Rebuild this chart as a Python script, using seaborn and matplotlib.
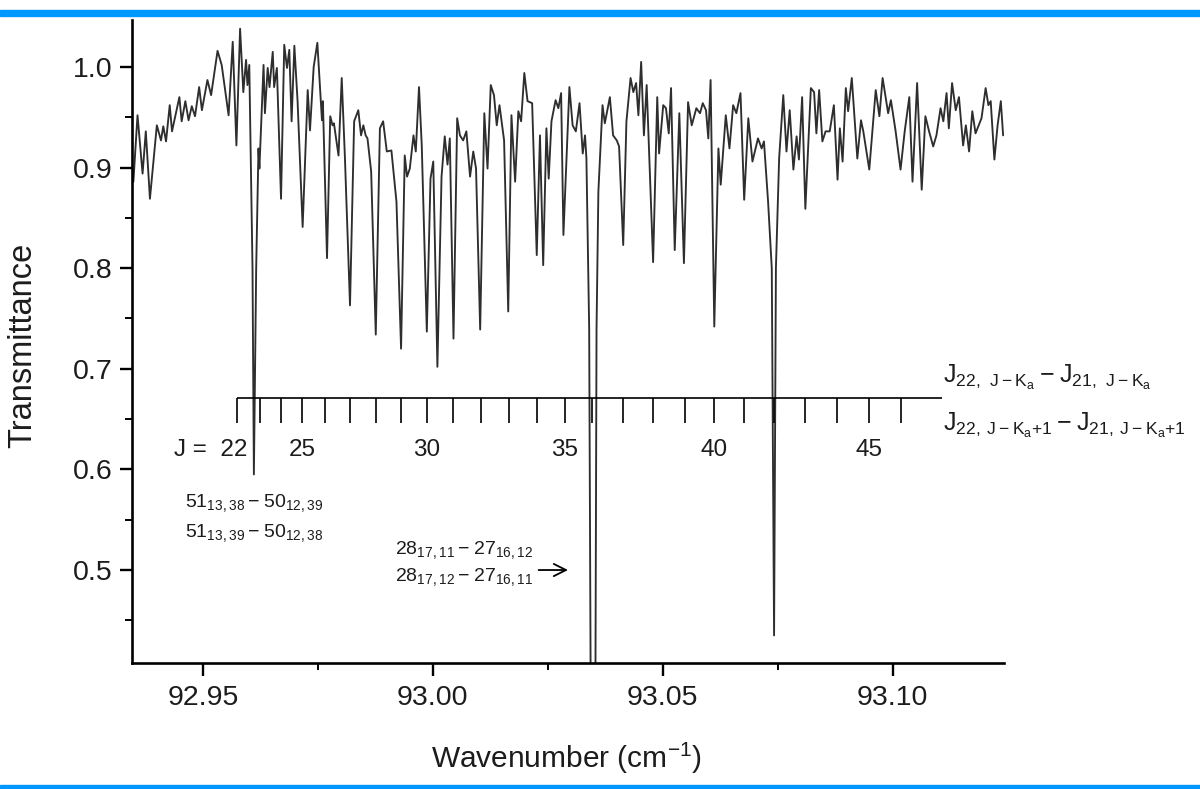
import matplotlib
matplotlib.use("Agg")
import numpy as np
import pandas as pd
import seaborn as sns
import matplotlib.pyplot as plt
from matplotlib.ticker import MultipleLocator, FormatStrFormatter
from matplotlib.patches import Rectangle

# ---------------------------------------------------------------- data
# Measured transmittance spectrum (wavenumber in cm^-1)
wn_a = [92.9349, 92.9358, 92.9369, 92.9376, 92.9385, 92.9400, 92.9409, 92.9414, 92.9420,
        92.9428, 92.9433, 92.9449, 92.9454, 92.9462, 92.9469, 92.9476, 92.9483, 92.9492,
        92.9498, 92.9510, 92.9518, 92.9532, 92.9541, 92.9556, 92.9565, 92.9573, 92.9581,
        92.9588, 92.9594, 92.9597, 92.9601, 92.9608, 92.9611, 92.9616, 92.9621, 92.9623,
        92.9632, 92.9635, 92.9641, 92.9645, 92.9652, 92.9655, 92.9661, 92.9670, 92.9677,
        92.9683, 92.9688, 92.9693, 92.9699, 92.9706, 92.9717, 92.9728, 92.9733, 92.9741,
        92.9749, 92.9759, 92.9761, 92.9770, 92.9777, 92.9782, 92.9785, 92.9795, 92.9802,
        92.9809]
tr_a = [0.886, 0.952, 0.894, 0.936, 0.869, 0.942, 0.927, 0.941, 0.926,
        0.962, 0.936, 0.970, 0.946, 0.966, 0.947, 0.961, 0.951, 0.980,
        0.957, 0.987, 0.972, 1.016, 1.002, 0.952, 1.025, 0.922, 1.038,
        0.975, 1.007, 0.982, 1.002, 0.800, 0.595, 0.800, 0.919, 0.899,
        1.002, 0.954, 0.999, 0.980, 1.015, 0.980, 0.999, 0.869, 1.022,
        0.999, 1.017, 0.946, 1.021, 0.966, 0.841, 0.977, 0.937, 1.000,
        1.024, 0.947, 0.966, 0.810, 0.951, 0.942, 0.944, 0.912, 0.989,
        0.909]

wn_b = [92.9820, 92.9829, 92.9838, 92.9844, 92.9849, 92.9854, 92.9858, 92.9866, 92.9876,
        92.9885, 92.9892, 92.9900, 92.9910, 92.9921, 92.9931, 92.9939, 92.9944, 92.9950,
        92.9958, 92.9963, 92.9970, 92.9976, 92.9987, 92.9995, 93.0001, 93.0010, 93.0019,
        93.0026, 93.0032, 93.0037, 93.0045, 93.0053, 93.0059, 93.0066, 93.0073, 93.0081,
        93.0088, 93.0094, 93.0103, 93.0112, 93.0119, 93.0126, 93.0133, 93.0139, 93.0145,
        93.0155, 93.0164, 93.0171, 93.0179, 93.0186, 93.0192, 93.0199, 93.0206, 93.0216,
        93.0226, 93.0233, 93.0240, 93.0247, 93.0252, 93.0258, 93.0267, 93.0273, 93.0279,
        93.0284]
tr_b = [0.763, 0.946, 0.957, 0.932, 0.942, 0.932, 0.929, 0.896, 0.734,
        0.939, 0.946, 0.916, 0.917, 0.866, 0.720, 0.912, 0.891, 0.899,
        0.932, 0.916, 0.980, 0.922, 0.737, 0.889, 0.906, 0.702, 0.891,
        0.931, 0.903, 0.929, 0.730, 0.949, 0.932, 0.927, 0.936, 0.891,
        0.916, 0.899, 0.739, 0.954, 0.899, 0.982, 0.972, 0.942, 0.962,
        0.927, 0.757, 0.952, 0.886, 0.956, 0.946, 0.994, 0.966, 0.964,
        0.813, 0.932, 0.803, 0.939, 0.889, 0.946, 0.967, 0.959, 0.974,
        0.833]

wn_c = [93.0297, 93.0304, 93.0311, 93.0319, 93.0326, 93.0331, 93.0334, 93.0340, 93.0344,
        93.0353, 93.0356, 93.0360, 93.0369, 93.0374, 93.0385, 93.0392, 93.0400, 93.0405,
        93.0414, 93.0421, 93.0430, 93.0436, 93.0442, 93.0447, 93.0453, 93.0459, 93.0465,
        93.0479, 93.0488, 93.0492, 93.0501, 93.0507, 93.0513, 93.0518, 93.0526, 93.0536,
        93.0546, 93.0555, 93.0563, 93.0573, 93.0581, 93.0587, 93.0594, 93.0599, 93.0604,
        93.0612, 93.0621, 93.0626, 93.0637, 93.0645, 93.0653, 93.0660, 93.0669, 93.0677,
        93.0686, 93.0695, 93.0707, 93.0715, 93.0720, 93.0729, 93.0737, 93.0742, 93.0746,
        93.0753]
tr_c = [0.980, 0.942, 0.936, 0.964, 0.914, 0.932, 0.909, 0.740, 0.300,
        0.300, 0.740, 0.876, 0.962, 0.944, 0.970, 0.932, 0.927, 0.921,
        0.823, 0.946, 0.989, 0.975, 0.984, 0.952, 1.005, 0.932, 0.982,
        0.806, 0.970, 0.914, 0.962, 0.959, 0.934, 0.979, 0.818, 0.954,
        0.805, 0.965, 0.942, 0.959, 0.954, 0.964, 0.957, 0.929, 0.987,
        0.742, 0.919, 0.883, 0.952, 0.919, 0.962, 0.954, 0.974, 0.868,
        0.949, 0.906, 0.929, 0.919, 0.926, 0.866, 0.800, 0.435, 0.800,
        0.909]

wn_d = [93.0762, 93.0769, 93.0776, 93.0784, 93.0791, 93.0796, 93.0803, 93.0810, 93.0822,
        93.0829, 93.0834, 93.0840, 93.0847, 93.0854, 93.0863, 93.0872, 93.0880, 93.0885,
        93.0891, 93.0898, 93.0903, 93.0911, 93.0923, 93.0931, 93.0936, 93.0949, 93.0963,
        93.0971, 93.0978, 93.0990, 93.0996, 93.1006, 93.1017, 93.1026, 93.1036, 93.1043,
        93.1053, 93.1063, 93.1071, 93.1079, 93.1088, 93.1095, 93.1104, 93.1110, 93.1117,
        93.1122, 93.1129, 93.1137, 93.1144, 93.1153, 93.1159, 93.1166, 93.1173, 93.1180,
        93.1193, 93.1202, 93.1208, 93.1213, 93.1221, 93.1228, 93.1235, 93.1240]
tr_d = [0.972, 0.916, 0.957, 0.898, 0.931, 0.908, 0.970, 0.859, 0.979,
        0.975, 0.934, 0.977, 0.926, 0.936, 0.936, 0.962, 0.888, 0.939,
        0.906, 0.979, 0.956, 0.989, 0.909, 0.947, 0.936, 0.898, 0.977,
        0.951, 0.989, 0.954, 0.967, 0.937, 0.898, 0.936, 0.970, 0.886,
        0.984, 0.878, 0.951, 0.936, 0.921, 0.932, 0.959, 0.946, 0.974,
        0.939, 0.984, 0.957, 0.970, 0.922, 0.942, 0.916, 0.956, 0.934,
        0.949, 0.979, 0.962, 0.966, 0.908, 0.942, 0.966, 0.932]

# Calculated J-progression (J = 22 ... 46) for the K_a series
comb_j = list(range(22, 47))
comb_wn = [92.9575, 92.9624, 92.9670, 92.9716, 92.9766, 92.9820, 92.9876, 92.9930,
           92.9987, 93.0044, 93.0105, 93.0166, 93.0226, 93.0287, 93.0346, 93.0413,
           93.0479, 93.0548, 93.0611, 93.0676, 93.0742, 93.0809, 93.0879, 93.0948,
           93.1018]
comb_end = 93.1107
comb_level = 0.671
comb_tick_bottom = 0.646
comb_labels = [25, 30, 35, 40, 45]

x_ticks = [92.95, 93.00, 93.05, 93.10]
y_ticks = [0.5, 0.6, 0.7, 0.8, 0.9, 1.0]

# ---------------------------------------------------------------- style
sns.set_style("ticks")
plt.rcParams["font.family"] = ["Liberation Sans", "DejaVu Sans"]
plt.rcParams["mathtext.default"] = "regular"

ink = "#1c1c1c"

fig = plt.figure(figsize=(12, 7.89), dpi=100)
ax = fig.add_axes([0.110, 0.1597, 0.7267, 0.8150])

spec = pd.DataFrame({
    "wavenumber": wn_a + wn_b + wn_c + wn_d,
    "transmittance": tr_a + tr_b + tr_c + tr_d,
})
sns.lineplot(data=spec, x="wavenumber", y="transmittance", ax=ax,
             color="#2e2e2e", lw=1.35, estimator=None, sort=False)

ax.set_xlim(92.9346, 93.1242)
ax.set_ylim(0.4076, 1.0467)
ax.set_xticks(x_ticks)
ax.set_yticks(y_ticks)
ax.xaxis.set_minor_locator(MultipleLocator(0.025))
ax.yaxis.set_minor_locator(MultipleLocator(0.05))
ax.xaxis.set_major_formatter(FormatStrFormatter("%.2f"))
ax.yaxis.set_major_formatter(FormatStrFormatter("%.1f"))

for side in ("top", "right"):
    ax.spines[side].set_visible(False)
for side in ("left", "bottom"):
    ax.spines[side].set_linewidth(1.9)
    ax.spines[side].set_color("black")

ax.tick_params(which="major", length=9, width=1.7, labelsize=20.5, pad=5,
               color="black", labelcolor=ink)
ax.tick_params(axis="x", which="major", pad=7)
ax.tick_params(which="minor", length=5, width=1.4, color="black")

ax.set_xlabel("Wavenumber (cm$^{-1}$)", fontsize=21.5, color=ink)
ax.xaxis.set_label_coords(0.498, -0.121)
ax.set_ylabel("Transmittance", fontsize=23.5, color=ink)
ax.yaxis.set_label_coords(-0.107, 0.4946)

# ---------------------------------------------------------------- J comb
ax.hlines(comb_level, comb_wn[0], comb_end, color="black", lw=1.2)
ax.vlines(comb_wn, comb_tick_bottom, comb_level, color="black", lw=1.2)
for j, w in zip(comb_j, comb_wn):
    if j in comb_labels:
        ax.text(w, 0.619, str(j), ha="center", va="center", fontsize=17.5, color=ink)
ax.annotate("J =  22", xy=(comb_wn[0], 0.619), xytext=(10, 0),
            textcoords="offset pixels", ha="right", va="center",
            fontsize=17.5, color=ink)

ax.annotate(r"$\mathregular{J_{22,\ J-K_a} - J_{21,\ J-K_a}}$",
            xy=(comb_end, comb_level), xytext=(1, 21), textcoords="offset pixels",
            ha="left", va="center", fontsize=18, color=ink)
ax.annotate(r"$\mathregular{J_{22,\,J-K_a{+}1} - J_{21,\,J-K_a{+}1}}$",
            xy=(comb_end, comb_level), xytext=(1, -27), textcoords="offset pixels",
            ha="left", va="center", fontsize=18, color=ink)

# ---------------------------------------------------------------- line assignments
ax.text(92.9461, 0.567, r"$\mathregular{51_{13,38} - 50_{12,39}}$",
        ha="left", va="center", fontsize=14, color=ink)
ax.text(92.9461, 0.537, r"$\mathregular{51_{13,39} - 50_{12,38}}$",
        ha="left", va="center", fontsize=14, color=ink)
ax.text(92.9918, 0.520, r"$\mathregular{28_{17,11} - 27_{16,12}}$",
        ha="left", va="center", fontsize=14, color=ink)
ax.text(92.9918, 0.493, r"$\mathregular{28_{17,12} - 27_{16,11}}$",
        ha="left", va="center", fontsize=14, color=ink)
ax.annotate("", xy=(93.0300, 0.500), xytext=(93.0224, 0.500),
            arrowprops=dict(arrowstyle="->", lw=1.3, color="black", mutation_scale=22))

# ---------------------------------------------------------------- frame bars
fig.patches.append(Rectangle((0, 1 - 16 / 789), 1, 6 / 789, transform=fig.transFigure,
                             color="#0098fe", zorder=0))
fig.patches.append(Rectangle((0, 0), 1, 4 / 789, transform=fig.transFigure,
                             color="#0098fe", zorder=0))

fig.savefig("out.png", dpi=100)
